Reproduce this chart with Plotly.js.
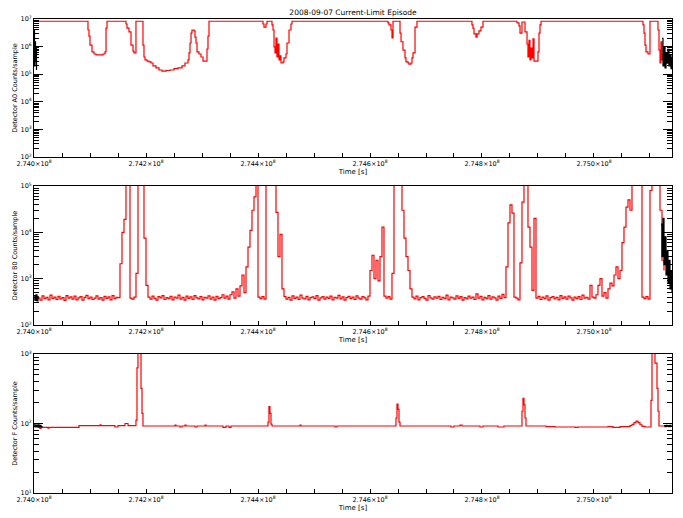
<!DOCTYPE html>
<html>
<head>
<meta charset="utf-8">
<script src="https://cdn.plot.ly/plotly-3.0.1.min.js"></script>
<style>
  html,body{margin:0;padding:0;background:#fff;}
  #plot{width:683px;height:518px;}
</style>
</head>
<body>
<div id="plot"></div>
<script>
// ---- data (time in seconds, counts per sample) ----
const chartTitle = "2008-09-07 Current-Limit Episode";
const yTitles = ["Detector A0 Counts/sample", "Detector B0 Counts/sample", "Detector F Counts/sample"];
const timeTicks = [2.740e8, 2.742e8, 2.744e8, 2.746e8, 2.748e8, 2.750e8];
const timeTickText = ["2.740", "2.742", "2.744", "2.746", "2.748", "2.750"];
const timeRange = [2.740e8, 275139300];
const yDecades = [[2, 7], [2, 5], [1, 3]];

// detector A0: step vertices
const tA = [274000000,274096400,274098200,274100000,274103600,274107100,274110700,274123200,274126800,274128600,274130400,
  274164300,274166100,274169600,274173200,274176800,274178600,274182100,274194600,274196400,274198200,274201800,
  274205400,274208900,274212500,274217900,274223200,274228600,274235700,274242900,274250000,274257100,274264300,
  274269600,274275000,274276800,274278600,274280400,274282100,274285700,274287500,274289300,274291100,274294600,
  274298200,274301800,274308900,274310700,274312500,274408900,274410700,274414300,274416100,274425000,274426800,
  274428600,274430400,274432100,274433900,274435700,274437500,274439300,274441100,274444600,274446400,274450000,
  274451800,274455400,274458900,274460700,274632100,274633900,274637500,274639300,274641100,274653600,274655400,
  274658900,274662500,274664300,274667900,274669600,274673200,274675000,274676800,274680400,274683900,274782100,
  274783900,274785700,274789300,274791100,274794600,274798200,274801800,274862500,274866100,274867900,274871400,
  274876800,274880400,274882100,274883900,274885700,274887500,274889300,274891100,274892900,274900000,274901800,
  274903600,274905400,275087500,275089300,275091100,275092900,275096400,275100000,275114300,275116100,275117900,
  275119600,275121400,275123200,275125000];
const cA = [8.3e6,4.0e6,2.4e6,1.14e6,6.4e5,5.4e5,5.0e5,5.4e5,6.4e5,4.7e6,8.3e6,
  6.6e6,4.7e6,3.4e6,1.14e6,6.9e5,5.9e5,8.3e6,1.14e6,4.2e5,3.3e5,3.0e5,
  2.8e5,2.55e5,2.0e5,1.7e5,1.42e5,1.3e5,1.36e5,1.42e5,1.6e5,1.7e5,2.0e5,
  2.55e5,3.3e5,5.9e5,1.35e6,3.1e6,4.0e6,3.7e6,2.2e6,1.35e6,6.4e5,5.4e5,
  4.2e5,3.0e5,8.2e5,2.4e6,8.3e6,6.6e6,5.1e6,6.6e6,8.3e6,6.1e6,4.0e6,
  9.7e5,5.9e5,2.05e6,4.2e5,1.24e6,3.3e5,4.6e5,2.55e5,2.8e5,3.9e5,5.4e5,
  1.35e6,4.0e6,6.6e6,8.3e6,7.2e6,6.1e6,4.0e6,2.05e6,8.3e6,3.1e6,1.5e6,
  7.5e5,3.9e5,2.8e5,2.55e5,2.3e5,2.55e5,3.9e5,5.9e5,5.1e6,8.3e6,6.1e6,
  4.7e6,2.9e6,2.2e6,2.9e6,3.7e6,5.1e6,8.3e6,7.2e6,5.6e6,3.1e6,7.8e6,
  3.4e6,1.24e6,4.2e5,1.7e6,3.3e5,8.9e5,3.9e5,1.9e6,3.0e5,6.4e5,3.1e6,
  6.1e6,8.3e6,6.1e6,3.1e6,1.14e6,6.4e5,5.4e5,8.3e6,4.0e6,7.5e5,2.55e5,
  1.5e6,3.3e5,5.0e5,5.0e5];
// black overlay, start and end pieces (null = gap)
const tA_k = [274000000,274000900,274001800,274002700,274003600,274004500,274005400,null,
  275121400,275123200,275125000,275126800,275128600,275130400,275132100,275133900,275135700,275137500,275139300];
const cA_k = [4.0e6,2.0e5,1.5e6,3.0e5,9.0e5,1.5e5,1.5e5,null,
  2.0e6,2.0e5,1.0e6,1.7e5,6.0e5,2.5e5,8.0e5,2.0e5,5.0e5,1.6e5,4.0e5];

// detector B0: evenly sampled
const tB0 = 2.740e8, dtB = 3571.4;
const cB = [
  360,410,380,345,425,370,395,350,440,375, 400,355,415,365,390,340,430,380,405,360,
  420,350,385,410,345,395,435,370,400,355, 380,425,360,390,345,415,375,405,350,430,
  370,395,
  390,2100,10000,19000,1e6,1e6,380,360,400,1300,1e6,1e6,1e6,7500,720,
  400,360,420,375,345,410,385,430,355,390, 370,415,350,400,380,440,360,395,345,420,
  375,405,355,430,385,365,410,350,395,380, 425,360,400,345,415,370,390,450,380,420,
  360,450,520,380,600,420,
  700,1200,500,1800,4800,11000,30000,58000,1e6,400,370,410,360,1e6,1e6,1e6,1e6,1e6,27000,3000,9000,600,
  410,360,395,345,425,375,400,355,440,380, 365,415,350,390,405,370,430,345,385,410,
  360,400,375,420,350,395,380,435,365,405, 345,390,415,370,400,355,425,380,360,410,
  385,350,420,
  1500,3200,1000,2500,900,3000,13000,420,380,410,360,1300,1e6,1e6,1e6,1e6,30000,7500,3000,1500,600,
  400,365,420,350,390,410,375,345,430,385, 360,405,380,415,355,395,370,440,350,400,
  385,360,425,375,410,345,390,365,420,380, 400,355,470,380,415,350,395,370,430,360,
  405,385,345,420,375,460,390,
  1800,16000,39000,26000,400,380,350,2200,45000,1e6,1e6,13000,4800,560,20000,
  380,415,355,400,370,425,345,390,410,365, 395,350,430,375,405,360,420,385,345,400,
  370,410,355,440,380,395,360,
  720,400,380,450,720,1000,420,500,380,600,800,700,1200,1800,1000,1500,6000,13000,35000,50000,30000,1e6,1e6,1e6,1e6,1e6,
  400,370,410,360,80000,1e6,1e6,1e6,1e6,30000,2500,1500];
const tB_k = [274000000,274001800,274003600,274005400,274007100,null,
  275119600,275121400,275123200,275125000,275126800,275128600,275130400,275132100,275133900,275135700,275137500,275139300];
const cB_k = [430,340,450,330,420,null, 15000,3000,20000,2000,8000,1200,4000,800,2500,600,1500,500];

// detector F: step vertices
const tF = [274000000,274007100,274010700,274012500,274025000,274026800,274080400,274117900,274119600,274144600,
  274150000,274162500,274167900,274182100,274183900,274185700,274191100,274192900,274194600,274251800,274253600,
  274260700,274264300,274269600,274271400,274287500,274291100,274305400,274307100,274337500,274342900,274348200,
  274351800,274417900,274419600,274421400,274423200,274425000,274475000,274476800,274537500,274541100,274646400,
  274648200,274650000,274651800,274653600,274744600,274750000,274760700,274764300,274796400,274801800,274828600,
  274839300,274871400,274873200,274875000,274876800,274878600,274914300,274930400,274966100,274971400,275025000,
  275033900,275046400,275064300,275067900,275071400,275075000,275078600,275082100,275085700,275091100,275101800,
  275103600,275108900,275112500,275114300,275116100,275132100];
const cF = [92,88,85,88,86,88,93,96,93,89,
  93,100,93,112,630,2000,320,140,92,95,92,
  89,92,95,92,89,92,95,92,88,92,88,
  92,105,175,140,98,92,95,92,89,92,120,
  190,160,105,92,89,92,95,92,89,92,89,
  92,150,230,185,120,92,90,89,88,89,90,
  88,90,93,97,103,108,103,96,91,89,215,
  2000,740,320,150,92,92];
const tF_k = [274000000,274001800,274003600,274005400,274007100,274008900,274010700,274012500,274014300,null,
  275125000,275126800,275128600,275130400,275132100,275133900,275135700,275137500,275139300];
const cF_k = [96,89,95,90,96,89,94,90,92,null, 93,90,94,91,93,90,94,91,92];

// ---- drawing ----
const ink = "#000", red = "#ff0000";
const fontFam = "DejaVu Sans, Liberation Sans, sans-serif";
const xDomain = [34/683, 672/683];
const yDomains = [[1-157/518, 1-19/518], [1-325/518, 1-186/518], [1-493/518, 1-354/518]];

function step(x, y, color, n){
  return {type:"scatter", mode:"lines", x:x, y:y, connectgaps:false, line:{color:color, width:1.2, shape:"hv"},
    xaxis: n===1 ? "x" : "x"+n, yaxis: n===1 ? "y" : "y"+n, hoverinfo:"skip"};
}

const traces = [
  step(tA, cA, red, 1), step(tA_k, cA_k, ink, 1),
  {type:"scatter", mode:"lines", x0:tB0, dx:dtB, y:cB, line:{color:red, width:1.2, shape:"hv"}, xaxis:"x2", yaxis:"y2", hoverinfo:"skip"},
  step(tB_k, cB_k, ink, 2),
  step(tF, cF, red, 3), step(tF_k, cF_k, ink, 3)
];

function xAxis(n){
  return {domain:xDomain, anchor: n===1?"y":"y"+n, range:timeRange, showgrid:false, zeroline:false,
    showline:true, linecolor:ink, linewidth:1, mirror:true,
    tickmode:"array", tickvals:timeTicks, ticktext:timeTickText.map(s=>s+"×10<sup>8</sup>"),
    ticks:"inside", ticklen:4, tickcolor:ink, tickfont:{size:6.5, color:ink},
    minor:{tickmode:"linear", tick0:2.740e8, dtick:5e4, ticks:"inside", ticklen:4, tickcolor:ink, showgrid:false},
    title:{text:"Time [s]", font:{size:7, color:ink}, standoff:1}};
}
function yAxis(n){
  const [lo, hi] = yDecades[n-1];
  const vals = [], txt = [], minorVals = [];
  for(let e=lo; e<=hi; e++){
    vals.push(Math.pow(10,e)); txt.push("10<sup>"+e+"</sup>");
    if(e<hi) for(let m=2; m<10; m++) minorVals.push(m*Math.pow(10,e));
  }
  return {domain:yDomains[n-1], anchor: n===1?"x":"x"+n, type:"log", range:[lo,hi], showgrid:false, zeroline:false,
    showline:true, linecolor:ink, linewidth:1, mirror:"allticks",
    tickmode:"array", tickvals:vals, ticktext:txt,
    ticks:"inside", ticklen:9, tickcolor:ink, tickfont:{size:6.5, color:ink},
    minor:{tickmode:"array", tickvals:minorVals, ticks:"inside", ticklen:5, tickcolor:ink, showgrid:false},
    title:{text:yTitles[n-1], font:{size:6.5, color:ink}, standoff:2}};
}

const layout = {
  width:683, height:518, margin:{l:0,r:0,t:0,b:0}, showlegend:false,
  paper_bgcolor:"#fff", plot_bgcolor:"#fff", font:{family:fontFam, color:ink, size:7},
  title:{text:chartTitle, x:353/683, xanchor:"center", y:1-12/518, yanchor:"middle", font:{size:7.5, color:ink}},
  xaxis:xAxis(1), yaxis:yAxis(1), xaxis2:xAxis(2), yaxis2:yAxis(2), xaxis3:xAxis(3), yaxis3:yAxis(3)
};

Plotly.newPlot("plot", traces, layout, {displayModeBar:false, staticPlot:true});
</script>
</body>
</html>
